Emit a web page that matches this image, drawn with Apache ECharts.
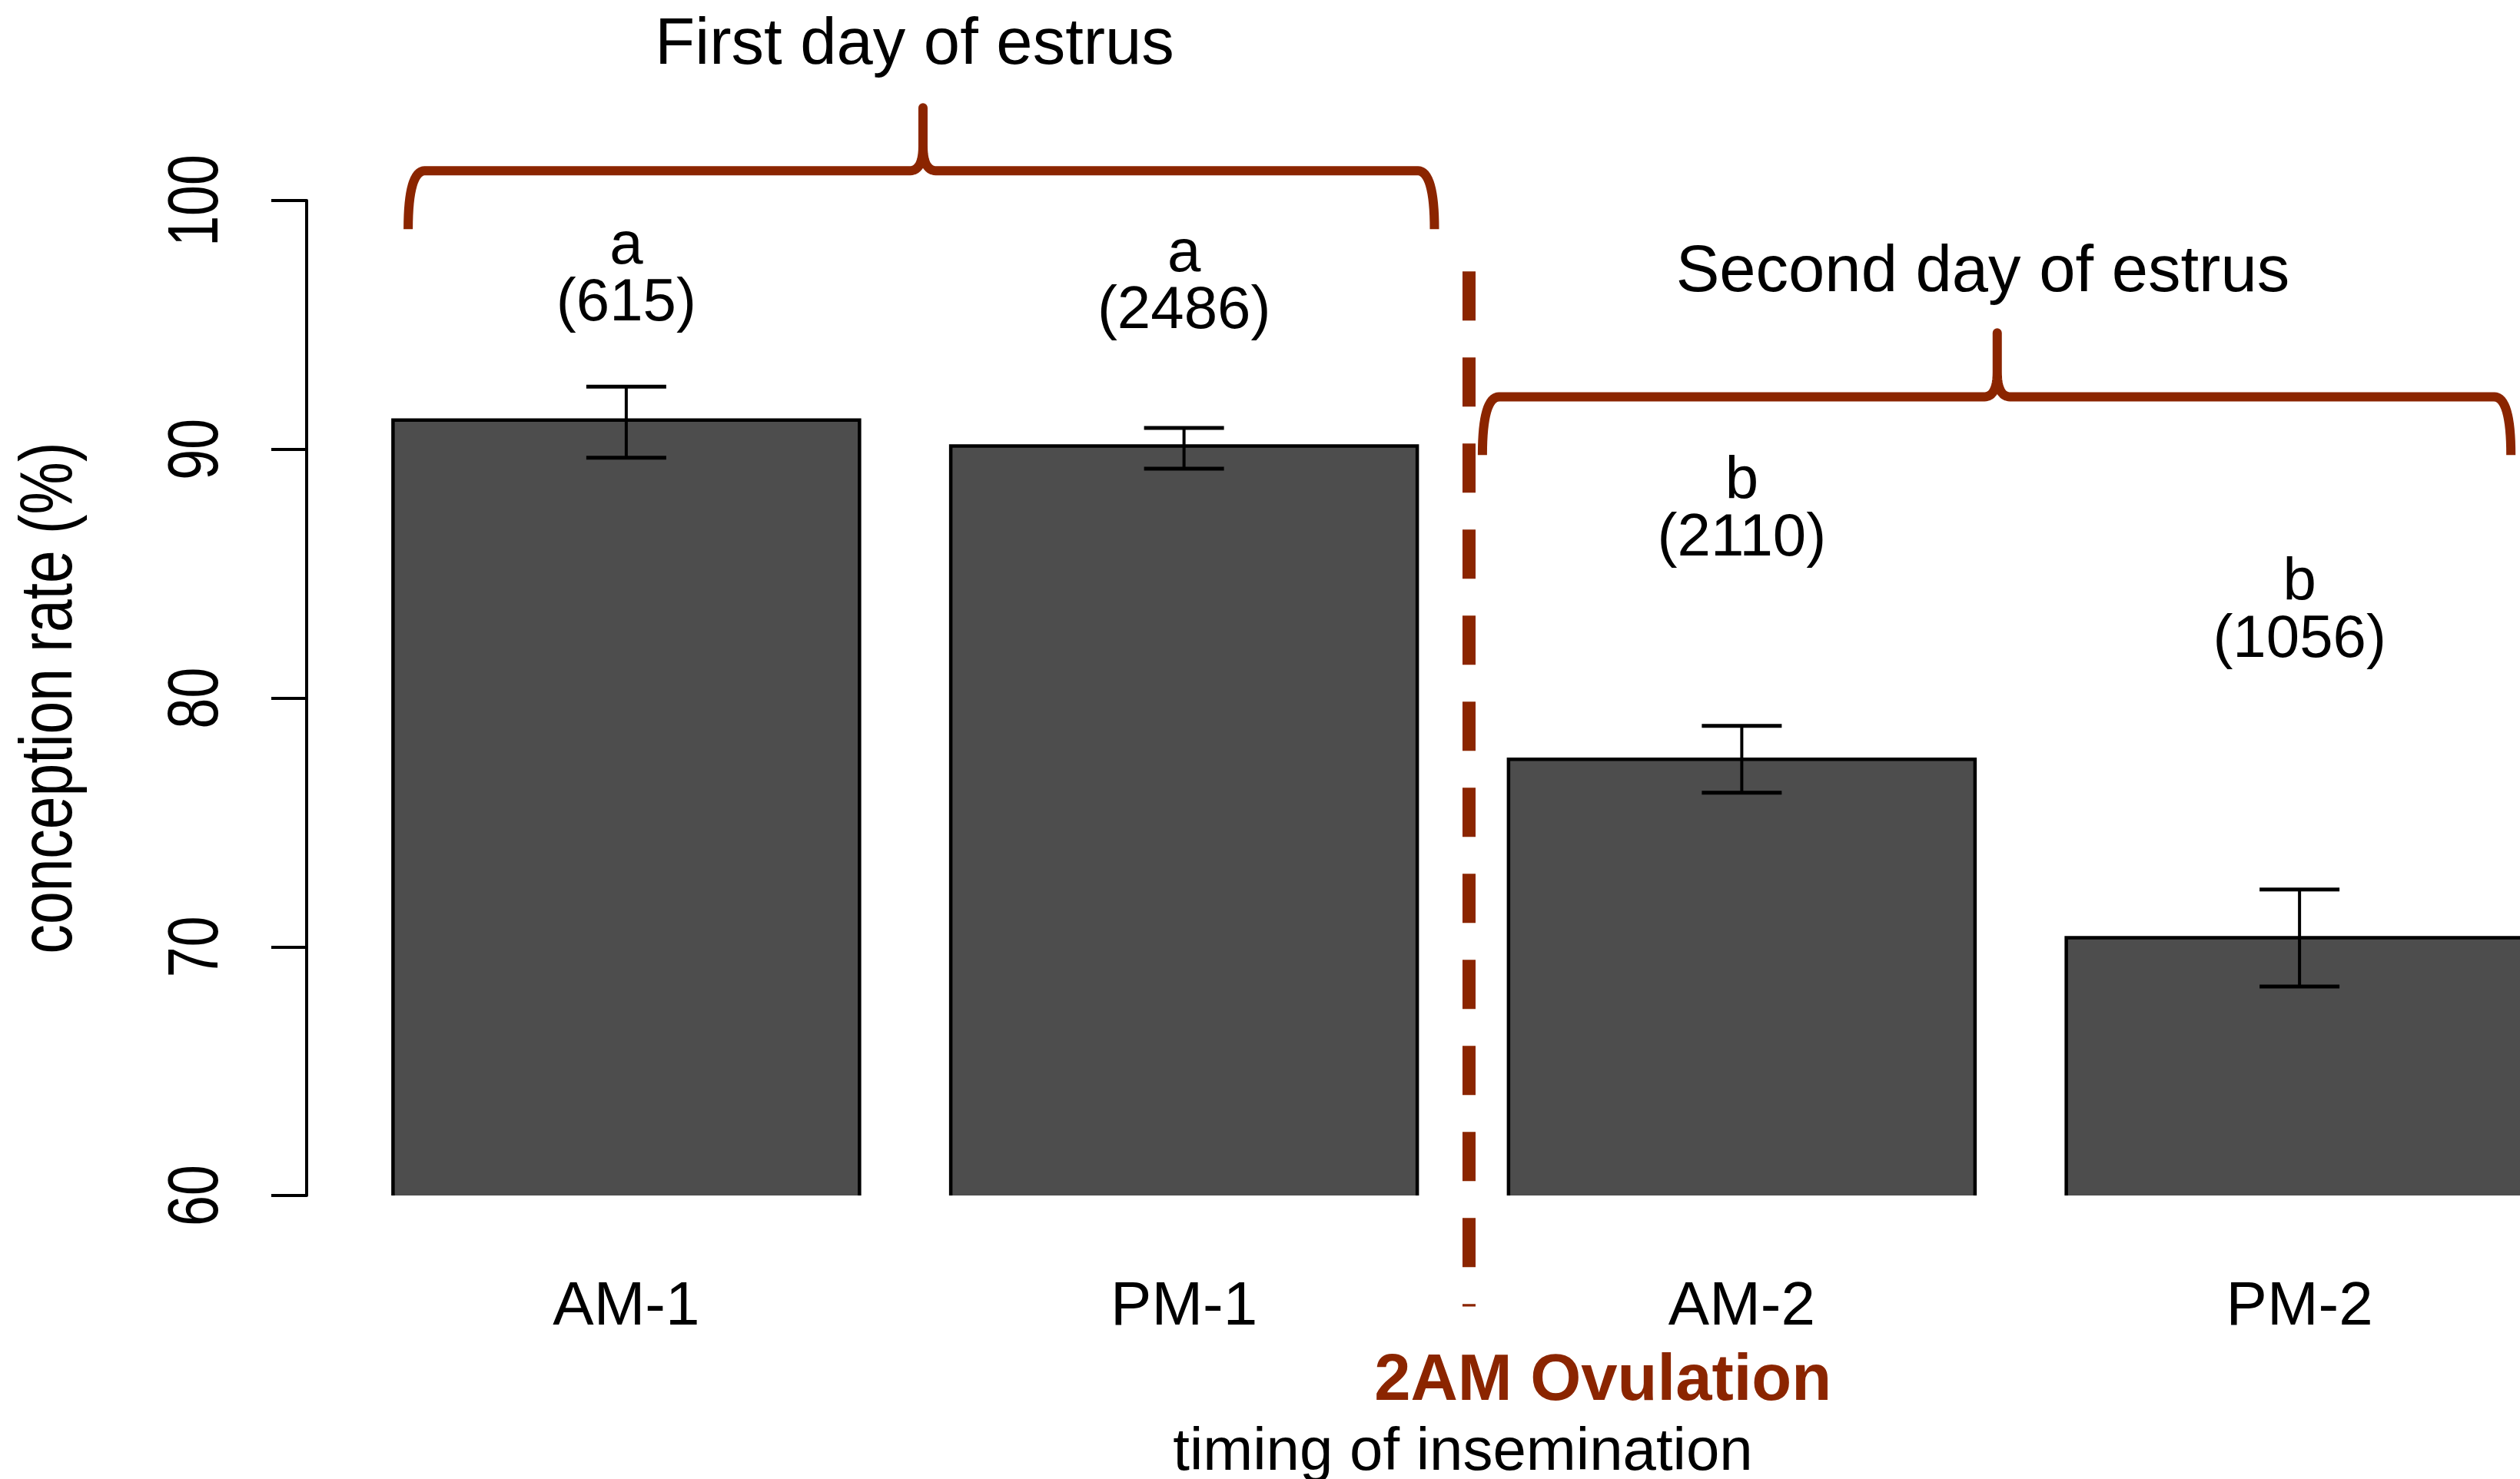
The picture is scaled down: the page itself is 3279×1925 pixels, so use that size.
<!DOCTYPE html>
<html>
<head>
<meta charset="utf-8">
<script src="https://cdn.jsdelivr.net/npm/echarts@6/dist/echarts.min.js"></script>
<style>
html,body{margin:0;padding:0;background:#fff;}
#chart{width:3279px;height:1925px;}
</style>
</head>
<body>
<div id="chart"></div>
<script>
// ---- data ----
const categories = ['AM-1', 'PM-1', 'AM-2', 'PM-2'];
const rates = [91.17, 90.13, 77.54, 70.36];
const errUpper = [92.52, 90.86, 78.88, 72.30];
const errLower = [89.66, 89.22, 76.19, 68.40];
const groupLetters = ['a', 'a', 'b', 'b'];
const sampleSizes = [615, 2486, 2110, 1056];
const yTicks = [60, 70, 80, 90, 100];

// ---- annotation anchors (category units, value units) ----
const letterY = [96.99, 96.69, 87.53, 83.45];
const RED = '#8B2500';
const MAIN_FONT = '"Liberation Sans", Arial, Helvetica, sans-serif';
const BAR_W = 607;

const chart = echarts.init(document.getElementById('chart'), null, {renderer: 'canvas'});

const option = {
  backgroundColor: '#fff',
  animation: false,
  grid: {left: 452, top: 261, width: 2903, height: 1295, containLabel: false, outerBoundsMode: 'none'},
  xAxis: {
    type: 'category',
    data: categories,
    axisLine: {show: false},
    axisTick: {show: false},
    axisLabel: {color: '#000', fontSize: 80, fontFamily: MAIN_FONT, margin: 106},
    name: 'timing of insemination',
    nameLocation: 'middle',
    nameGap: 296,
    nameTextStyle: {color: '#000', fontSize: 78, fontFamily: MAIN_FONT}
  },
  yAxis: {
    type: 'value',
    min: yTicks[0],
    max: yTicks[yTicks.length - 1],
    interval: yTicks[1] - yTicks[0],
    offset: 53,
    axisLine: {show: true, lineStyle: {color: '#000', width: 4}},
    axisTick: {show: true, length: 46, lineStyle: {color: '#000', width: 4}},
    splitLine: {show: false},
    axisLabel: {show: false}
  },
  series: [
    {
      type: 'bar',
      data: rates,
      barWidth: BAR_W,
      itemStyle: {color: '#4D4D4D', borderWidth: 0},
      z: 2
    },
    {
      // bar outlines (left, top, right edges; bottom edge clipped as in the original)
      type: 'custom',
      z: 3,
      data: categories.map((c, i) => [i, rates[i]]),
      encode: {x: 0, y: 1},
      renderItem: function (params, api) {
        const i = api.value(0);
        const top = api.coord([i, api.value(1)]);
        const bot = api.coord([i, yTicks[0]]);
        const h = BAR_W / 2;
        return {
          type: 'polyline',
          shape: {points: [[top[0] - h, bot[1]], [top[0] - h, top[1]], [top[0] + h, top[1]], [top[0] + h, bot[1]]]},
          style: {stroke: '#000', lineWidth: 4.5, fill: null, lineJoin: 'miter'}
        };
      }
    },
    {
      type: 'custom',
      z: 4,
      data: categories.map((c, i) => [i, errUpper[i], errLower[i]]),
      encode: {x: 0, y: [1, 2]},
      renderItem: function (params, api) {
        const i = api.value(0);
        const top = api.coord([i, api.value(1)]);
        const bot = api.coord([i, api.value(2)]);
        const hw = 52;
        const st = {stroke: '#000', lineWidth: 5};
        return {
          type: 'group',
          children: [
            {type: 'line', shape: {x1: top[0], y1: top[1], x2: bot[0], y2: bot[1]}, style: {stroke: '#000', lineWidth: 4}},
            {type: 'line', shape: {x1: top[0] - hw, y1: top[1], x2: top[0] + hw, y2: top[1]}, style: st},
            {type: 'line', shape: {x1: bot[0] - hw, y1: bot[1], x2: bot[0] + hw, y2: bot[1]}, style: st}
          ]
        };
      }
    },
    {
      type: 'custom',
      z: 5,
      data: categories.map((c, i) => [i, letterY[i]]),
      encode: {x: 0, y: 1},
      renderItem: function (params, api) {
        const i = api.value(0);
        const p = api.coord([i, api.value(1)]);
        const txt = groupLetters[i] + '\n(' + sampleSizes[i] + ')';
        return {
          type: 'text',
          x: p[0], y: p[1],
          style: {
            text: txt, fill: '#000', fontSize: 78, fontFamily: MAIN_FONT, lineHeight: 74,
            align: 'center', verticalAlign: 'middle', textAlign: 'center', textVerticalAlign: 'middle'
          }
        };
      }
    }
  ]
};
chart.setOption(option);

// ---- annotations placed through the chart's own coordinate conversion ----
const c0 = chart.convertToPixel({xAxisIndex: 0}, 0);
const c1 = chart.convertToPixel({xAxisIndex: 0}, 1);
const X = u => c0 + u * (c1 - c0);
const Y = v => chart.convertToPixel({yAxisIndex: 0}, v);
const axisX = X(-0.5) - 53;

function quad(p0, p1, p2, n) {
  const pts = [];
  for (let k = 1; k <= n; k++) {
    const t = k / n, a = (1 - t) * (1 - t), b = 2 * (1 - t) * t, c = t * t;
    pts.push([a * p0[0] + b * p1[0] + c * p2[0], a * p0[1] + b * p1[1] + c * p2[1]]);
  }
  return pts;
}

function bracePoints(uL, uR, uT, vH, vE, vT) {
  const xL = X(uL), xR = X(uR), xT = X(uT);
  const yH = Y(vH), yE = Y(vE), yT = Y(vT);
  const r = 22, tw = 17, th = 32;
  let pts = [[xL, yE]];
  pts = pts.concat(quad([xL, yE], [xL, yH], [xL + r, yH], 16));
  pts.push([xT - tw, yH]);
  pts = pts.concat(quad([xT - tw, yH], [xT, yH], [xT, yH - th], 12));
  pts.push([xT, yT]);
  pts.push([xT, yH - th]);
  pts = pts.concat(quad([xT, yH - th], [xT, yH], [xT + tw, yH], 12));
  pts.push([xR - r, yH]);
  pts = pts.concat(quad([xR - r, yH], [xR, yH], [xR, yE], 16));
  return pts;
}

function txt(u, v, s, size, bold, color) {
  return {
    type: 'text', x: X(u), y: Y(v), z: 10,
    style: {
      text: s, fill: color || '#000', fontSize: size, fontFamily: MAIN_FONT,
      fontWeight: bold ? 'bold' : 'normal',
      align: 'center', verticalAlign: 'middle', textAlign: 'center', textVerticalAlign: 'middle'
    }
  };
}

function vtxt(x, y, s, size, sx) {
  return {
    type: 'text', x: x, y: y, rotation: Math.PI / 2, scaleX: sx, scaleY: 1, z: 10,
    style: {
      text: s, fill: '#000', fontSize: size, fontFamily: MAIN_FONT,
      align: 'center', verticalAlign: 'middle', textAlign: 'center', textVerticalAlign: 'middle'
    }
  };
}

const braceStyle = {stroke: RED, lineWidth: 12, fill: null, lineCap: 'butt', lineJoin: 'round'};

const graphics = [
  {type: 'polyline', z: 10, shape: {points: bracePoints(-0.391, 1.449, 0.532, 101.20, 98.85, 103.73)}, style: braceStyle},
  {type: 'polyline', z: 10, shape: {points: bracePoints(1.535, 3.379, 2.458, 92.11, 89.77, 94.68)}, style: braceStyle},
  {type: 'line', z: 10, shape: {x1: X(1.511), y1: Y(97.15), x2: X(1.511), y2: Y(55.54)},
    style: {stroke: RED, lineWidth: 17, lineDash: [64, 48]}},
  txt(0.517, 106.23, 'First day of estrus', 85, false),
  txt(2.432, 97.07, 'Second day of estrus', 85, false),
  txt(1.751, 52.50, '2AM Ovulation', 85, true, RED),
  vtxt(axisX - 332, (Y(yTicks[0]) + Y(yTicks[yTicks.length - 1])) / 2, 'conception rate (%)', 96, 0.80)
];
yTicks.forEach(t => graphics.push(vtxt(axisX - 141, Y(t), String(t), 92, 0.78)));

chart.setOption({graphic: graphics});
</script>
</body>
</html>
